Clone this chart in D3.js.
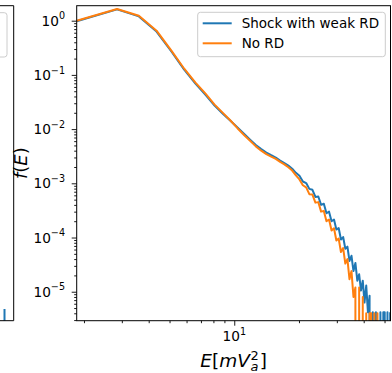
<!DOCTYPE html>
<html>
<head>
<meta charset="utf-8">
<script src="https://cdn.jsdelivr.net/npm/d3@7"></script>
<style>
  body { margin: 0; background: #fff; }
  svg { display: block; }
  text { font-family: "DejaVu Sans", sans-serif; fill: #000; }
</style>
</head>
<body>
<svg id="chart"></svg>
<script>
// bin energies (E in m V_a^2)
const energy = [1.85, 2.85, 3.6, 4.35, 5.1, 5.85, 6.6, 7.35, 8.1, 8.85, 9.6, 10.35, 11.1, 11.85,
  12.6, 13.35, 14.1, 14.85, 15.6, 16.35, 17.1, 17.85, 18.6, 19.35, 20.1, 20.85, 21.6, 22.35,
  23.1, 23.85, 24.6, 25.35, 26.1, 26.85, 27.6, 28.35, 29.1, 29.85, 30.6, 31.35, 32.1, 32.85,
  33.6, 34.35, 35.1, 35.85, 36.6, 37.35, 38.1, 38.85, 39.6, 40.35, 41.1, 41.85, 42.6, 43.35,
  44.1, 44.85, 45.6, 46.35, 47.1, 47.85, 48.6, 49.35, 50.1, 50.85, 51.6, 52.35, 53.1]

const shockWeakRD = [0.98, 1.62, 1.2, 0.63, 0.27, 0.125, 0.069, 0.043, 0.0272, 0.0192, 0.0142, 0.0107, 0.0082, 0.0064,
  0.0051, 0.0043, 0.0037, 0.0033, 0.00298, 0.00262, 0.00236, 0.00212, 0.00186, 0.00156, 0.00138, 0.00108, 0.00101, 0.00079,
  0.00076, 0.00056, 0.00057, 0.0004, 0.00042, 0.00028, 0.0003, 0.0002, 0.000215, 0.00014, 0.00015, 9.2e-5, 1.02e-4, 6.2e-5,
  6.8e-5, 3.7e-5, 4.6e-5, 2.4e-5, 3.4e-5, 1.6e-5, 2.1e-5, 1.05e-5, 1.6e-5, 6.3e-6, 1.3e-5, 4.2e-6, 8.4e-6, 0,
  4.2e-6, 0, 4.2e-6, 0, 0, 4.2e-6, 0, 4.2e-6, 4.2e-6, 0, 4.2e-6, 0, 4.2e-6]

const noRD = [1.0, 1.64, 1.23, 0.655, 0.28, 0.13, 0.072, 0.045, 0.0283, 0.0199, 0.0144, 0.0104, 0.0078, 0.0061,
  0.0048, 0.004, 0.00345, 0.0031, 0.00282, 0.00248, 0.00224, 0.00198, 0.00172, 0.0014, 0.00118, 0.00092, 0.00084, 0.00063,
  0.00062, 0.00044, 0.00045, 0.0003, 0.00031, 0.0002, 0.000215, 0.000135, 0.000148, 8.8e-5, 9.6e-5, 5.4e-5, 6.4e-5, 3.3e-5,
  4.0e-5, 1.7e-5, 2.4e-5, 8e-6, 1.2e-5, 0, 1.2e-5, 0, 8e-6, 0, 4e-6, 0, 4e-6, 4e-6,
  0, 4e-6, 0, 4e-6, 0, 0, 0, 0, 0, 0, 0, 0, 0]

// right edge of the neighbouring panel (only a sliver is visible)
const leftEnergy = [47.5, 48.3, 49.1]
const leftShock = [0, 4.8e-6, 0]

const yMajor = [1e-5, 1e-4, 1e-3, 1e-2, 1e-1, 1]
const yExponents = ['−5', '−4', '−3', '−2', '−1', '0']
const xMajor = [10]
const xExponents = ['1']
const xMinor = [2, 3, 4, 5, 6, 7, 8, 9, 20, 30, 40, 50]

const seriesNames = ['Shock with weak RD', 'No RD']
const colors = ['#1f77b4', '#ff7f0e']

const width = 392, height = 373
const m = { left: 76.7, right: 390.5, top: 5.7, bottom: 320.7 }

const svg = d3.select('#chart')
  .attr('width', width)
  .attr('height', height)

const x = d3.scaleLog().domain([1.85, 53.3]).range([m.left, m.right])
const y = d3.scaleLog().domain([2.92e-6, 1.891]).range([m.bottom, m.top])
const xLeft = d3.scaleLog().domain([1.85, 53.3]).range([-300, 13.7])

const yMinor = []
for (let p = -6; p <= 0; p++) {
  for (let k = 2; k <= 9; k++) {
    const v = k * Math.pow(10, p)
    if (v >= 2.92e-6 && v <= 1.891) yMinor.push(v)
  }
}

// clip paths
const defs = svg.append('defs')
defs.append('clipPath').attr('id', 'clip-main')
  .append('rect').attr('x', m.left).attr('y', m.top).attr('width', m.right - m.left).attr('height', m.bottom - m.top)
defs.append('clipPath').attr('id', 'clip-left')
  .append('rect').attr('x', -10).attr('y', m.top).attr('width', 23.7).attr('height', m.bottom - m.top)

// ---- neighbouring panel sliver ----
const leftLine = d3.line()
  .x(d => xLeft(d[0]))
  .y(d => d[1] > 0 ? y(d[1]) : 1e5)

svg.append('path')
  .datum(leftEnergy.map((e, i) => [e, leftShock[i]]))
  .attr('clip-path', 'url(#clip-left)')
  .attr('fill', 'none')
  .attr('stroke', colors[0])
  .attr('stroke-width', 2)
  .attr('d', leftLine)

svg.append('rect')
  .attr('x', -150).attr('y', 12.7)
  .attr('width', 157).attr('height', 44.3)
  .attr('rx', 2.7)
  .attr('fill', 'rgba(255,255,255,0.8)')
  .attr('stroke', '#cccccc')
  .attr('stroke-width', 1)

svg.append('path')
  .attr('d', `M-5,${m.top}H13.7V${m.bottom}H-5`)
  .attr('fill', 'none')
  .attr('stroke', '#000')
  .attr('stroke-width', 1)

// ---- main panel data ----
const line = d3.line()
  .x(d => x(d[0]))
  .y(d => d[1] > 0 ? y(d[1]) : 1e5)

const plot = svg.append('g').attr('clip-path', 'url(#clip-main)')

;[shockWeakRD, noRD].forEach((vals, i) => {
  plot.append('path')
    .datum(energy.map((e, j) => [e, vals[j]]))
    .attr('fill', 'none')
    .attr('stroke', colors[i])
    .attr('stroke-width', 2)
    .attr('stroke-linejoin', 'round')
    .attr('d', line)
})

// ---- axes ----
const yAxisG = svg.append('g').attr('transform', `translate(${m.left},0)`)
yAxisG.append('g')
  .call(d3.axisLeft(y).tickValues(yMajor).tickSize(5).tickFormat(''))
yAxisG.append('g')
  .call(d3.axisLeft(y).tickValues(yMinor).tickSize(2.5).tickFormat(''))
yAxisG.selectAll('.domain').remove()
yAxisG.selectAll('line').attr('stroke', '#000').attr('stroke-width', 0.9)

const xAxisG = svg.append('g').attr('transform', `translate(0,${m.bottom})`)
xAxisG.append('g')
  .call(d3.axisBottom(x).tickValues(xMajor).tickSize(5).tickFormat(''))
xAxisG.append('g')
  .call(d3.axisBottom(x).tickValues(xMinor).tickSize(2.5).tickFormat(''))
xAxisG.selectAll('.domain').remove()
xAxisG.selectAll('line').attr('stroke', '#000').attr('stroke-width', 0.9)

// tick labels as 10^n
svg.append('g').selectAll('text')
  .data(yMajor)
  .join('text')
  .attr('x', m.left - 11.7)
  .attr('y', d => y(d) + 5)
  .attr('text-anchor', 'end')
  .style('font-size', '13.7px')
  .each(function (d, i) {
    const t = d3.select(this)
    t.append('tspan').text('10')
    t.append('tspan').attr('dy', -6.3).style('font-size', '9.6px').text(yExponents[i])
  })

svg.append('g').selectAll('text')
  .data(xMajor)
  .join('text')
  .attr('x', d => x(d))
  .attr('y', 340.7)
  .attr('text-anchor', 'middle')
  .style('font-size', '13.7px')
  .each(function (d, i) {
    const t = d3.select(this)
    t.append('tspan').text('10')
    t.append('tspan').attr('dy', -6).style('font-size', '9.6px').text(xExponents[i])
  })

// spines
svg.append('rect')
  .attr('x', m.left).attr('y', m.top)
  .attr('width', m.right - m.left).attr('height', m.bottom - m.top)
  .attr('fill', 'none')
  .attr('stroke', '#000')
  .attr('stroke-width', 1)

// axis labels
const yLab = svg.append('text')
  .attr('transform', `translate(27,${(m.top + m.bottom) / 2}) rotate(-90)`)
  .attr('text-anchor', 'middle')
  .style('font-size', '18px')
yLab.append('tspan').style('font-style', 'italic').text('f')
yLab.append('tspan').text('(')
yLab.append('tspan').style('font-style', 'italic').text('E')
yLab.append('tspan').text(')')

// x label: E[mV_a^2] with stacked sub/superscript
const xLab = svg.append('g')
const fs = 18.5
const part1 = xLab.append('text').attr('y', 367).style('font-size', fs + 'px')
part1.append('tspan').style('font-style', 'italic').text('E')
part1.append('tspan').text('[')
part1.append('tspan').style('font-style', 'italic').text('mV')
const w1 = part1.node().getComputedTextLength()
const sub = xLab.append('text').attr('x', w1 + 0.5).attr('y', 371)
  .style('font-size', fs * 0.7 + 'px').style('font-style', 'italic').text('a')
const sup = xLab.append('text').attr('x', w1 + 0.5).attr('y', 360)
  .style('font-size', fs * 0.7 + 'px').text('2')
const w2 = Math.max(sub.node().getComputedTextLength(), sup.node().getComputedTextLength())
const close = xLab.append('text').attr('x', w1 + w2 + 1.5).attr('y', 367)
  .style('font-size', fs + 'px').text(']')
const wTot = w1 + w2 + 1.5 + close.node().getComputedTextLength()
xLab.attr('transform', `translate(${(m.left + m.right) / 2 - wTot / 2},0)`)

// ---- legend ----
const legend = svg.append('g')
legend.append('rect')
  .attr('x', 197.7).attr('y', 12.3)
  .attr('width', 187.6).attr('height', 44.4)
  .attr('rx', 2.7)
  .attr('fill', 'rgba(255,255,255,0.8)')
  .attr('stroke', '#cccccc')
  .attr('stroke-width', 1)

seriesNames.forEach((name, i) => {
  const ly = 23.3 + i * 20
  legend.append('line')
    .attr('x1', 202.7).attr('x2', 231.7)
    .attr('y1', ly).attr('y2', ly)
    .attr('stroke', colors[i])
    .attr('stroke-width', 2)
  legend.append('text')
    .attr('x', 241.7).attr('y', ly + 5)
    .style('font-size', '13.5px')
    .text(name)
})
</script>
</body>
</html>
